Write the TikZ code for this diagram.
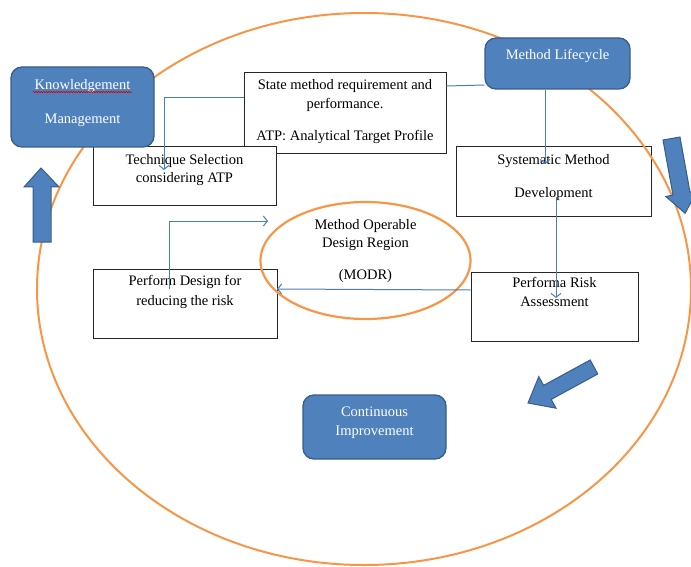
\documentclass[tikz,border=0pt]{standalone}
\usepackage{fontspec}
\setmainfont{Liberation Serif}
\usetikzlibrary{arrows.meta,shapes.geometric,decorations.pathmorphing}

\definecolor{bluefill}{RGB}{79,129,189}
\definecolor{blueedge}{RGB}{56,93,138}
\definecolor{linkblue}{RGB}{74,126,187}
\definecolor{orangeline}{RGB}{247,150,70}

\tikzset{
  stepbox/.style={draw=black!85, fill=white, line width=1, inner sep=0},
  lifebox/.style={draw=blueedge, fill=bluefill, line width=1.3, rounded corners=11, inner sep=0},
  boxtext/.style={align=center, inner sep=0, anchor=north, font=\fontsize{14.5}{19}\selectfont},
  link/.style={draw=linkblue, line width=1, -{Straight Barb[length=4pt,width=10pt]}},
  blockarrow/.style={draw=blueedge, fill=bluefill, line width=1, line join=miter},
  ring/.style={draw=orangeline, line width=2},
}

\begin{document}
\begin{tikzpicture}[x=1pt,y=1pt,yscale=-1,xscale=1]
\useasboundingbox (0,0) rectangle (691,567);

% White boxes
\node[stepbox, minimum width=202, minimum height=81] (req) at (345,113.5) {};
\node[stepbox, minimum width=183, minimum height=58] (tech) at (184.5,176) {};
\node[stepbox, minimum width=195, minimum height=69] (sys) at (553.5,181.5) {};
\node[stepbox, minimum width=184, minimum height=69] (design) at (185,303.5) {};
\node[stepbox, minimum width=167, minimum height=69] (risk) at (554.5,306.5) {};

% Outer cycle and MODR region
\draw[ring] (364,289) ellipse [x radius=327, y radius=276];
\node[ellipse, draw=orangeline, line width=2.2, minimum width=210, minimum height=117, inner sep=0] (modr) at (365.5,260.5) {};

% Blue boxes
\node[lifebox, minimum width=143, minimum height=80] (km) at (82.5,107) {};
\node[lifebox, minimum width=145, minimum height=51] (life) at (557.5,63.5) {};
\node[lifebox, minimum width=143, minimum height=64] (ci) at (374.5,427) {};

% Text Node
\node[boxtext] (reqtxt) at (345,79) {State method requirement and\\performance.\\[13pt]ATP: Analytical Target Profile};
\node[boxtext] (techtxt) at (184.5,154) {Technique Selection\\[-1pt]considering ATP};
\node[boxtext] (systxt) at (553.5,154) {Systematic Method\\[14pt]Development};
\node[boxtext] (designtxt) at (185,275) {Perform Design for\\[1pt]reducing the risk};
\node[boxtext] (risktxt) at (554.5,277) {Performa Risk\\Assessment};
\node[boxtext] (modrtxt) at (365.5,219) {Method Operable\\[-1pt]Design Region\\[13pt](MODR)};
\node[boxtext, text=white] (kmtxt) at (82.5,79) {Knowledgement\\[15pt]Management};
\node[boxtext, text=white] (lifetxt) at (557.5,49) {Method Lifecycle};
\node[boxtext, text=white] (citxt) at (374.5,407) {Continuous\\Improvement};
\draw[red!85!black, line width=0.6, decorate, decoration={snake, amplitude=0.7pt, segment length=2.5pt}] (33,92) -- (132,92);

% Connectors
\coordinate (techin) at (164,170);
\coordinate (sysin) at (545,164);
\coordinate (sysout) at (556,197);
\coordinate (riskin) at (556,298);
\coordinate (modrin) at (277,289);
\coordinate (designout) at (169,289);
\coordinate (modrback) at (268,221);
\draw[draw=linkblue, line width=1] (req.east |- 0,86) -- (life.west |- 0,85);
\draw[link] (req.west |- 0,98) -- (164,98) -- (techin);
\draw[link] (life.south -| 545,0) -- (sysin);
\draw[link] (sysout) -- (riskin);
\draw[link] (risk.west |- 0,290) -- (modrin);
\draw[link] (designout) |- (modrback);

% Block arrows
\draw[blockarrow] (41,168) -- (59,187) -- (51,187) -- (51,242) -- (33,242) -- (33,187) -- (24,187) -- cycle;
\draw[blockarrow] (663,140) -- (673,195.1) -- (665.8,196.5) -- (685.1,213.3) -- (697.2,190.7) -- (690,192.1) -- (680,137) -- cycle;
\draw[blockarrow] (590.2,360) -- (543.6,385.4) -- (538.8,376.6) -- (528,403) -- (556,408.2) -- (551.2,399.4) -- (597.8,374) -- cycle;

\end{tikzpicture}
\end{document}
